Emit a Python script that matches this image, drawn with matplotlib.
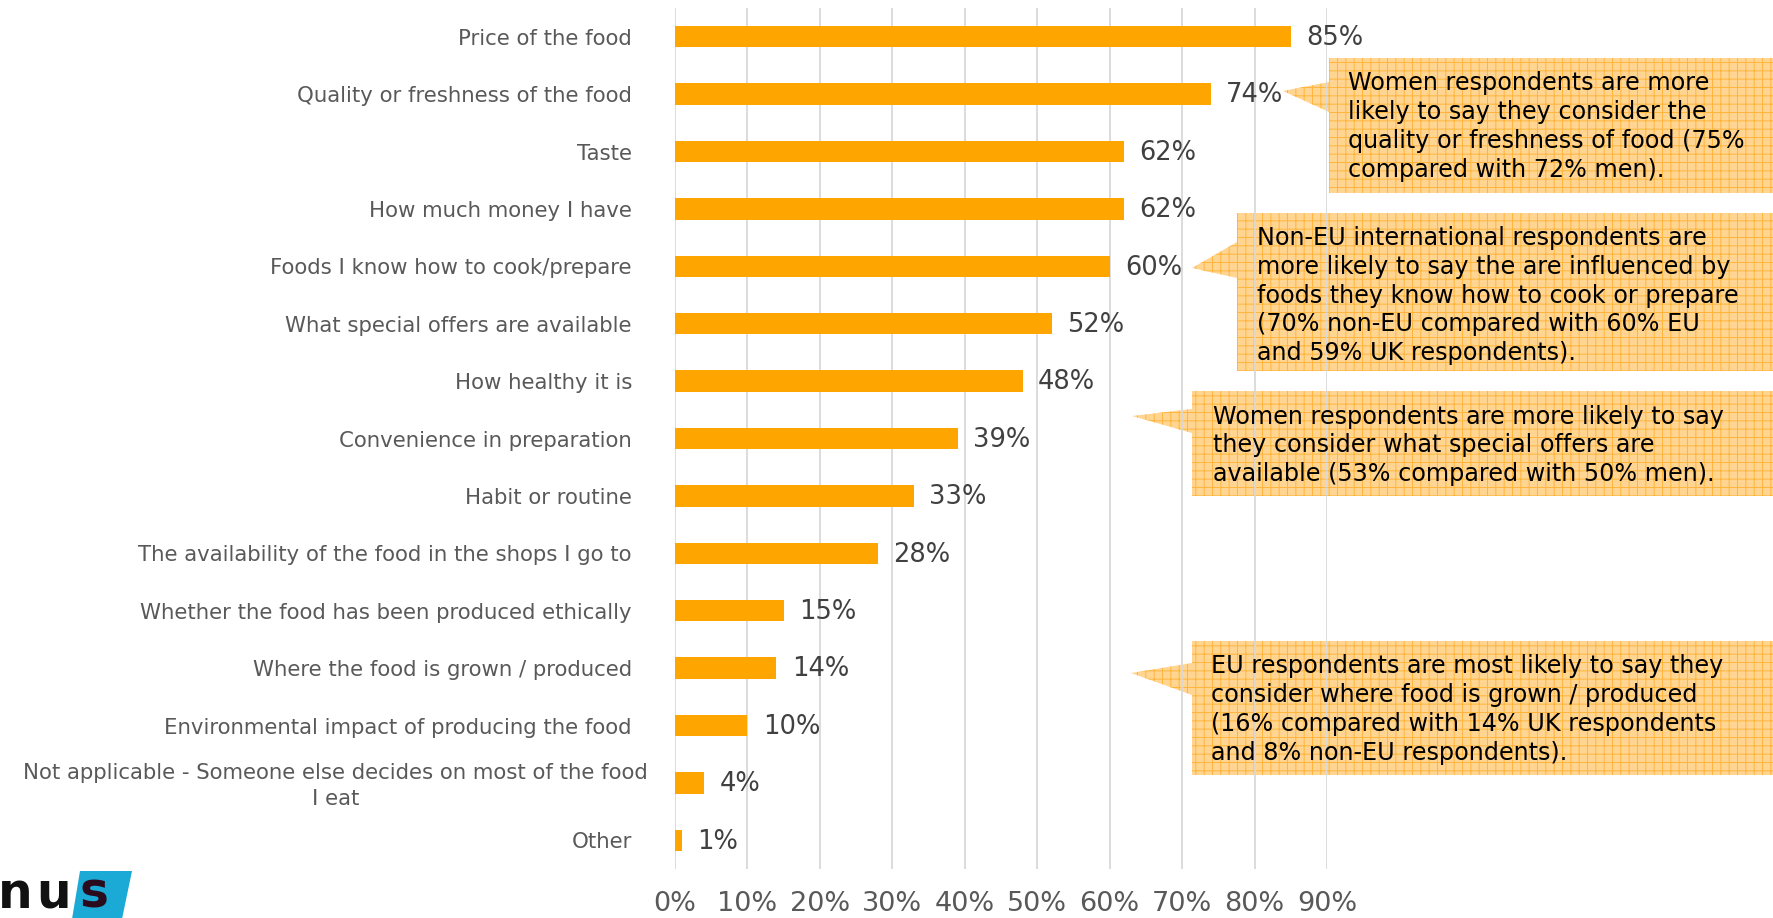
import matplotlib
matplotlib.use("Agg")
import matplotlib.pyplot as plt
from matplotlib.patches import Polygon
from matplotlib.transforms import offset_copy

W, H = 1774, 918

categories = [
    "Price of the food",
    "Quality or freshness of the food",
    "Taste",
    "How much money I have",
    "Foods I know how to cook/prepare",
    "What special offers are available",
    "How healthy it is",
    "Convenience in preparation",
    "Habit or routine",
    "The availability of the food in the shops I go to",
    "Whether the food has been produced ethically",
    "Where the food is grown / produced",
    "Environmental impact of producing the food",
    "Not applicable - Someone else decides on most of the food\nI eat",
    "Other",
]
values = [85, 74, 62, 62, 60, 52, 48, 39, 33, 28, 15, 14, 10, 4, 1]
x_ticks = [0, 10, 20, 30, 40, 50, 60, 70, 80, 90]

notes = [
    "Women respondents are more\nlikely to say they consider the\n"
    "quality or freshness of food (75%\ncompared with 72% men).",
    "Non-EU international respondents are\nmore likely to say the are influenced by\n"
    "foods they know how to cook or prepare\n(70% non-EU compared with 60% EU\n"
    "and 59% UK respondents).",
    "Women respondents are more likely to say\nthey consider what special offers are\n"
    "available (53% compared with 50% men).",
    "EU respondents are most likely to say they\nconsider where food is grown / produced\n"
    "(16% compared with 14% UK respondents\nand 8% non-EU respondents).",
]

# callout layout in pixels: box left, top, bottom, tip x, tip y, base y0, base y1, text x
callout_px = [
    (1329, 58, 193, 1283, 91, 82, 112, 1348),
    (1237, 213, 371, 1192, 268, 242, 278, 1257),
    (1192, 391, 496, 1132, 416, 409, 433, 1213),
    (1192, 641, 775, 1131, 673, 663, 695, 1211),
]

BAR = "#FFA500"
GRID = "#D9D9D9"
LABEL = "#595959"


def fxy(x, y):
    return x / W, 1 - y / H


plt.rcParams["font.family"] = ["DejaVu Sans"]
plt.rcParams["hatch.linewidth"] = 0.7

fig = plt.figure(figsize=(W / 100, H / 100), dpi=100)
ax = fig.add_axes([675 / W, 1 - 869 / H, (1327 - 675) / W, (869 - 8) / H])
ax.set_facecolor("none")

ypos = list(range(len(categories)))
ax.barh(ypos, values, height=0.37, color=BAR, zorder=2)
for y, v in zip(ypos, values):
    ax.annotate(f"{v}%", (v, y), xytext=(11, -1), textcoords="offset points",
                va="center", ha="left", fontsize=18.5, color="#404040")

ax.set_xlim(0, 90)
ax.set_ylim(len(categories) - 0.5, -0.5)
ax.set_xticks(x_ticks)
ax.set_xticklabels([f"{t}%" for t in x_ticks], fontsize=19.5, color=LABEL)
ax.set_yticks(ypos)
ax.set_yticklabels(categories, fontsize=15.3, color=LABEL)
ax.tick_params(axis="y", length=0, pad=31)
ax.tick_params(axis="x", length=0, pad=16)
ax.grid(axis="x", color=GRID, linewidth=1.3, zorder=0)
ax.set_axisbelow(True)
for s in ax.spines.values():
    s.set_visible(False)

long_lbl = ax.get_yticklabels()[13]
long_lbl.set_multialignment("center")
long_lbl.set_linespacing(1.4)
long_lbl.set_transform(offset_copy(long_lbl.get_transform(), fig=fig, x=16, y=2, units="dots"))

for text, (left, top, bottom, tx, ty, b0, b1, textx) in zip(notes, callout_px):
    pts = [(left, top), (W + 5, top), (W + 5, bottom), (left, bottom), (left, b1), (tx, ty), (left, b0)]
    poly = Polygon([fxy(*p) for p in pts], closed=True, transform=fig.transFigure,
                   facecolor="#FFD591", edgecolor="#FFB43C", hatch="++", linewidth=0, zorder=-1)
    fig.add_artist(poly)
    n_lines = text.count("\n") + 1
    first = top + 25
    mid = first + (n_lines - 1) * 28.3 / 2
    fig.text(*fxy(textx, mid + 1), text, ha="left", va="center", fontsize=17.2,
             color="black", linespacing=1.25, zorder=5)

# nus logo in the corner
logo_bg = Polygon([fxy(80, 871), fxy(132, 871), fxy(122, 919), fxy(72, 919)], closed=True,
                  transform=fig.transFigure, facecolor="#1BA9D6", linewidth=0)
fig.add_artist(logo_bg)
fig.text(*fxy(-2, 908), "n", fontsize=35, fontweight="heavy", color="#111111",
         ha="left", va="baseline")
fig.text(*fxy(36, 908), "u", fontsize=35, fontweight="heavy", color="#111111",
         ha="left", va="baseline")
fig.text(*fxy(80, 908), "s", fontsize=35, fontweight="heavy", color="#2A0C1E",
         ha="left", va="baseline")

fig.savefig("out.png", dpi=100)
